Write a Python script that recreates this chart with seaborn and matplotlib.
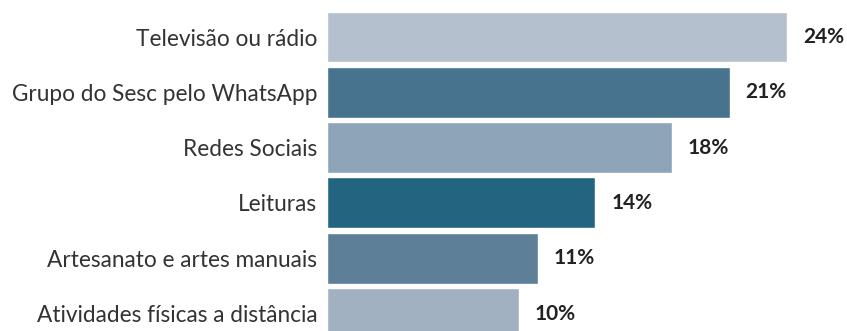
import matplotlib
matplotlib.use("Agg")
import matplotlib.pyplot as plt
import seaborn as sns
import pandas as pd

categories = ["Televisão ou rádio", "Grupo do Sesc pelo WhatsApp", "Redes Sociais",
              "Leituras", "Artesanato e artes manuais", "Atividades físicas a distância"]
values = [24, 21, 18, 14, 11, 10]
value_labels = ["24%", "21%", "18%", "14%", "11%", "10%"]
colors = ["#b4c0ce", "#48738e", "#8ea4b8", "#236580", "#5e7f98", "#a2b1c1"]

df = pd.DataFrame({"cat": categories, "val": values})

sns.set_theme(style="white")
plt.rcParams["font.family"] = ["Lato", "DejaVu Sans"]

W, H = 847, 331
fig = plt.figure(figsize=(W / 100, H / 100), dpi=100)
left_px = 327
ax = fig.add_axes([left_px / W, 0, 1 - left_px / W, 1])

sns.barplot(data=df, y="cat", x="val", hue="cat", palette=colors, legend=False,
            orient="h", width=0.92, saturation=1, ax=ax)

px_per_unit_y = 55.3
top = -37 / px_per_unit_y
ax.set_ylim(top + H / px_per_unit_y, top)
px_per_pct = 19.17
ax.set_xlim(0, (W - left_px) / px_per_pct)

for i, (v, lab) in enumerate(zip(values, value_labels)):
    ax.annotate(lab, xy=(v, i), xytext=(16, 0), textcoords="offset pixels",
                ha="left", va="center", fontsize=15, fontweight="bold", color="#222222")

ax.set_xlabel("")
ax.set_ylabel("")
ax.set_xticks([])
ax.tick_params(axis="y", length=0, pad=7, labelsize=16.3, labelcolor="#333333")
for s in ax.spines.values():
    s.set_visible(False)

fig.savefig("out.png", dpi=100)
